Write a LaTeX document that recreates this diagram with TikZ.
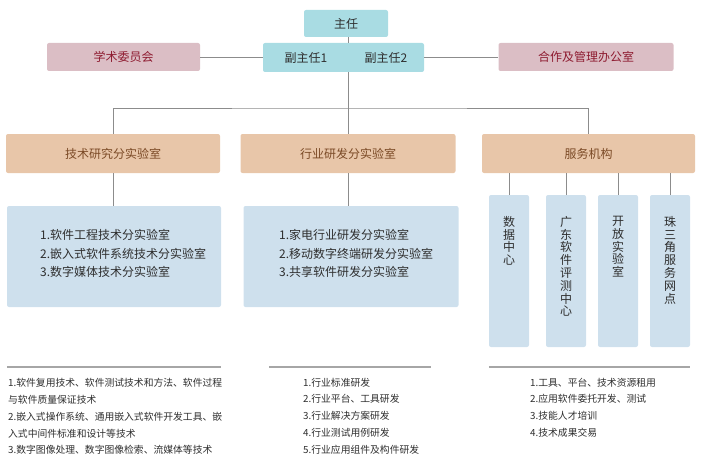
\documentclass[tikz,border=0pt]{standalone}
\usepackage{fontspec}
\setmainfont{Noto Sans CJK SC}
\usetikzlibrary{positioning,calc}

\definecolor{headblue}{HTML}{A9DCE3}
\definecolor{boardpink}{HTML}{DBBEC5}
\definecolor{boardtext}{HTML}{8E1B30}
\definecolor{labtan}{HTML}{E8C6A9}
\definecolor{labtext}{HTML}{7B4A26}
\definecolor{unitblue}{HTML}{CEE0ED}
\definecolor{linkgray}{HTML}{8C8C8C}
\definecolor{rulegray}{HTML}{A6A6A6}
\definecolor{txtgray}{HTML}{2E2E2E}

\begin{document}
\begin{tikzpicture}[x=1pt,y=-1pt,
        every node/.style={inner sep=0pt,text=txtgray,font=\fontsize{12}{13}\selectfont},
        headbox/.style={fill=headblue,rounded corners=2pt,minimum height=27pt},
        boardbox/.style={fill=boardpink,rounded corners=2pt,minimum height=28pt,text=boardtext},
        labbox/.style={fill=labtan,rounded corners=2pt,minimum width=214pt,minimum height=39pt,text=labtext},
        unitbox/.style={fill=unitblue,rounded corners=2pt},
        link/.style={draw=linkgray,line width=0.8pt},
        rule/.style={draw=rulegray,line width=1.6pt},
        note/.style={align=left,font=\fontsize{9.8}{16.8}\selectfont}]

    \useasboundingbox (0,0) rectangle (706,476);

    % heads
    \node[headbox,minimum width=84pt] (head) at (346,23.5) {主任};
    \node[headbox,minimum width=161pt,minimum height=29pt] (vice) at (343.5,57.5) {};
    \node (vice1) at (306,58) {副主任1};
    \node (vice2) at (386,58) {副主任2};

    % boards
    \node[boardbox,minimum width=153pt] (board) at (123.5,57) {学术委员会};
    \node[boardbox,minimum width=175pt] (office) at (586,57) {合作及管理办公室};

    \coordinate (bus) at (348,108);
    \draw[link] (bus |- head.south) -- (bus |- vice.north);
    \draw[link] (board.east) -- (board.east -| vice.west);
    \draw[link] (vice.east) -- (vice.east -| office.west);

    % labs
    \node[labbox] (lab1) at (113,153.5) {技术研究分实验室};
    \node[labbox,minimum width=215pt] (lab2) at (348,153.5) {行业研发分实验室};
    \node[labbox,minimum width=213pt] (serv) at (588.5,153.5) {服务机构};

    \draw[link] (bus |- vice.south) -- (bus);
    \draw[link] (lab1.north) |- (bus) -| (serv.north);
    \draw[link] (lab2.north) -- (bus);

    % lab contents
    \node[unitbox,minimum width=214pt,minimum height=101pt] (box1) at (114,256.5) {};
    \node[unitbox,minimum width=215pt,minimum height=101pt] (box2) at (351,256.5) {};
    \node[anchor=west,align=left,font=\fontsize{12}{18.5}\selectfont] (list1) at (40,253.5)
        {1.软件工程技术分实验室\\2.嵌入式软件系统技术分实验室\\3.数字媒体技术分实验室};
    \node[anchor=west,align=left,font=\fontsize{12}{18.5}\selectfont] (list2) at (279,253.5)
        {1.家电行业研发分实验室\\2.移动数字终端研发分实验室\\3.共享软件研发分实验室};

    \draw[link] (lab1.south) -- (lab1.south |- box1.north);
    \draw[link] (lab2.south) -- (lab2.south |- box2.north);

    % service units
    \foreach \x/\i/\txt in {509/1/{数\\据\\中\\心},566/2/{广\\东\\软\\件\\评\\测\\中\\心},
                           618/3/{开\\放\\实\\验\\室},670/4/{珠\\三\\角\\服\\务\\网\\点}}
    {
        \node[unitbox,minimum width=40pt,minimum height=152pt] (unit\i) at (\x,271) {};
        \node[anchor=north,align=center,font=\fontsize{12}{12.8}\selectfont] (unitname\i) at (\x,216) {\txt};
        \draw[link] (unit\i.north |- serv.south) -- (unit\i.north);
    }

    % notes
    \draw[rule] (box1.west |- 0,367) -- (box1.east |- 0,367);
    \draw[rule] (269,367) -- (431,367);
    \draw[rule] (unit1.west |- 0,367) -- (unit4.east |- 0,367);

    \node[note,anchor=west] (note1) at (8,416.5)
        {1.软件复用技术、软件测试技术和方法、软件过程\\与软件质量保证技术\\2.嵌入式操作系统、通用嵌入式软件开发工具、嵌\\入式中间件标准和设计等技术\\3.数字图像处理、数字图像检索、流媒体等技术};
    \node[note,anchor=west] (note2) at (303,416)
        {1.行业标准研发\\2.行业平台、工具研发\\3.行业解决方案研发\\4.行业测试用例研发\\5.行业应用组件及构件研发};
    \node[note,anchor=west] (note3) at (530,407.5)
        {1.工具、平台、技术资源租用\\2.应用软件委托开发、测试\\3.技能人才培训\\4.技术成果交易};
\end{tikzpicture}
\end{document}
